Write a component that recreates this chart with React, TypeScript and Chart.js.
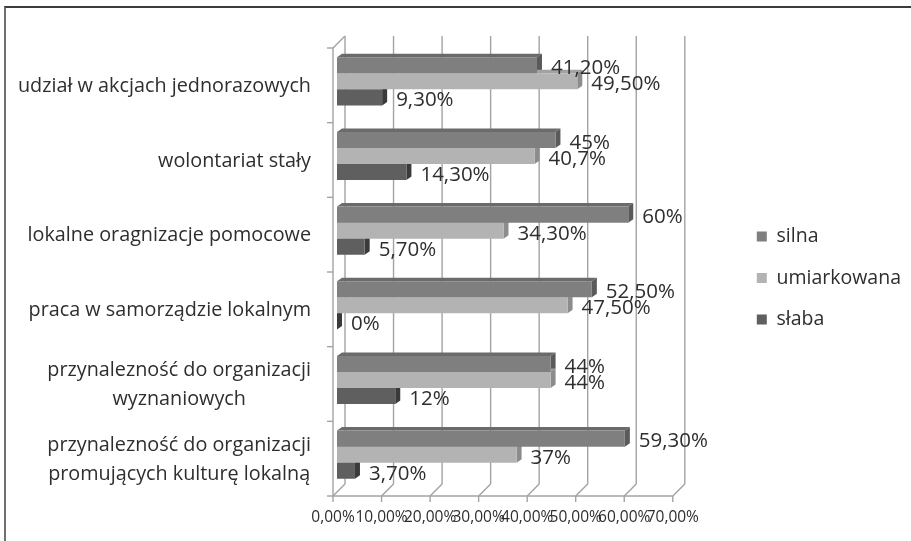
import React, { useEffect, useRef } from 'react';
import { Chart, registerables } from 'chart.js';

Chart.register(...registerables);

// ---------- data ----------
const categories: string[][] = [
  ['udział w akcjach jednorazowych'],
  ['wolontariat stały'],
  ['lokalne oragnizacje pomocowe'],
  ['praca w samorządzie lokalnym'],
  ['przynalezność do organizacji', 'wyznaniowych'],
  ['przynalezność do organizacji', 'promujących kulturę lokalną'],
];
const seriesNames = ['silna', 'umiarkowana', 'słaba'];
const silna = [41.2, 45, 60, 52.5, 44, 59.3];
const umiarkowana = [49.5, 40.7, 34.3, 47.5, 44, 37];
const slaba = [9.3, 14.3, 5.7, 0, 12, 3.7];
const silnaLabels = ['41,20%', '45%', '60%', '52,50%', '44%', '59,30%'];
const umiarkowanaLabels = ['49,50%', '40,7%', '34,30%', '47,50%', '44%', '37%'];
const slabaLabels = ['9,30%', '14,30%', '5,70%', '0%', '12%', '3,70%'];
const xTicks = [0, 10, 20, 30, 40, 50, 60, 70];
const xTickLabels = ['0,00%', '10,00%', '20,00%', '30,00%', '40,00%', '50,00%', '60,00%', '70,00%'];

// ---------- styles ----------
const FONT = "'Open Sans', sans-serif";
const TEXT = '#2e2e2e';
const GRID = '#a3a3a3';
const frontColors = ['#7f7f7f', '#b3b3b3', '#5f5f5f'];
const topColors = ['#6b6b6b', '#a2a2a2', '#4e4e4e'];
const sideColors = ['#5a5a5a', '#8c8c8c', '#3a3a3a'];
const W = 911;
const H = 541;
const PLOT_LEFT = 337;
const PLOT_RIGHT = 677;
const PLOT_TOP = 44;
const PLOT_BOTTOM = 492;
const LEGEND_X = 757;
const LEGEND_PAD = 22;
const LEGEND_FS = 19.5;
const LEGEND_BOX = 10;
const CAT_FS = 19.8;
const VAL_FS = 20.5;
const TICK_FS = 15.5;
const BX = 8, BY = -8; // back wall offset
const FX = -4, FY = 4; // front edge offset
const DX = 5, DY = 3.5; // bar depth
const LABEL_RIGHT = 311;

const valueSeries = [silna, umiarkowana, slaba];
const labelSeries = [silnaLabels, umiarkowanaLabels, slabaLabels];

function line(ctx: CanvasRenderingContext2D, x1: number, y1: number, x2: number, y2: number) {
  ctx.beginPath();
  ctx.moveTo(x1, y1);
  ctx.lineTo(x2, y2);
  ctx.stroke();
}
function poly(ctx: CanvasRenderingContext2D, pts: number[][]) {
  ctx.beginPath();
  ctx.moveTo(pts[0][0], pts[0][1]);
  for (let i = 1; i < pts.length; i++) ctx.lineTo(pts[i][0], pts[i][1]);
  ctx.closePath();
  ctx.fill();
}

const frame3d = {
  id: 'frame3d',
  beforeDatasetsDraw(chart: any) {
    const { ctx, chartArea: ca, scales } = chart;
    const x = scales.x, y = scales.y;
    const top = ca.top, bot = ca.bottom;
    ctx.save();
    ctx.strokeStyle = GRID;
    ctx.lineWidth = 1.4;
    for (const v of xTicks) {
      const px = x.getPixelForValue(v);
      line(ctx, px + BX, top + BY, px + BX, bot + BY);
      line(ctx, px + BX, bot + BY, px + FX, bot + FY);
      line(ctx, px + FX, bot + FY, px + FX, bot + FY + 6);
    }
    const x0 = x.getPixelForValue(xTicks[0]);
    const xN = x.getPixelForValue(xTicks[xTicks.length - 1]);
    line(ctx, x0 + FX, bot + FY, xN + FX, bot + FY);
    line(ctx, x0 + FX, top + FY, x0 + FX, bot + FY);
    line(ctx, x0 + FX, top + FY, x0 + BX, top + BY);
    const n = categories.length;
    const half = (y.getPixelForValue(1) - y.getPixelForValue(0)) / 2;
    for (let i = 0; i <= n; i++) {
      const yy = y.getPixelForValue(i) - half + FY;
      line(ctx, x0 + FX - 6, yy, x0 + FX, yy);
    }
    // 3D faces of bars (top and side)
    chart.data.datasets.forEach((_ds: any, di: number) => {
      const meta = chart.getDatasetMeta(di);
      meta.data.forEach((el: any) => {
        const p = el.getProps(['x', 'y', 'base', 'height'], true);
        const t = p.y - p.height / 2;
        const b = p.y + p.height / 2;
        ctx.fillStyle = topColors[di];
        poly(ctx, [[p.base, t], [p.base + DX, t - DY], [p.x + DX, t - DY], [p.x, t]]);
        ctx.fillStyle = sideColors[di];
        poly(ctx, [[p.x, t], [p.x + DX, t - DY], [p.x + DX, b - DY], [p.x, b]]);
      });
    });
    ctx.restore();
  },
  afterDatasetsDraw(chart: any) {
    const { ctx, scales } = chart;
    const y = scales.y;
    ctx.save();
    ctx.fillStyle = TEXT;
    ctx.font = `${VAL_FS}px ${FONT}`;
    ctx.textBaseline = 'middle';
    ctx.textAlign = 'left';
    chart.data.datasets.forEach((_ds: any, di: number) => {
      const meta = chart.getDatasetMeta(di);
      meta.data.forEach((el: any, i: number) => {
        const p = el.getProps(['x', 'y'], true);
        ctx.fillText(labelSeries[di][i], p.x + 14, p.y + 3);
      });
    });
    // category labels (lines centred on each other, block right-aligned)
    ctx.font = `${CAT_FS}px ${FONT}`;
    ctx.textAlign = 'center';
    const lh = 29;
    categories.forEach((lines, i) => {
      const cy = y.getPixelForValue(i) + FY + 1;
      const maxW = Math.max(...lines.map((l) => ctx.measureText(l).width));
      const cx = LABEL_RIGHT - maxW / 2;
      lines.forEach((l, k) => {
        ctx.fillText(l, cx, cy + (k - (lines.length - 1) / 2) * lh);
      });
    });
    ctx.restore();
  },
};

export default function App() {
  const ref = useRef<HTMLCanvasElement>(null);
  useEffect(() => {
    let chart: any = null;
    let cancelled = false;
    const build = () => {
      if (cancelled || !ref.current) return;
      const canvas = ref.current;
      const mctx = canvas.getContext('2d')!;
      mctx.font = `${LEGEND_FS}px ${FONT}`;
      const maxLegend = Math.max(...seriesNames.map((s) => mctx.measureText(s).width));
      const itemWidth = LEGEND_BOX + LEGEND_FS / 2 + maxLegend;
      const padRight = Math.max(0, W - LEGEND_X - itemWidth - 10);
      const spacer = LEGEND_X - LEGEND_PAD - PLOT_RIGHT;

      chart = new Chart(canvas, {
        type: 'bar',
        data: {
          labels: categories.map((c) => c.join(' ')),
          datasets: seriesNames.map((name, di) => ({
            label: name,
            data: valueSeries[di],
            backgroundColor: frontColors[di],
            borderWidth: 0,
            categoryPercentage: 0.645,
            barPercentage: 1,
          })),
        },
        options: {
          indexAxis: 'y',
          responsive: false,
          animation: false,
          devicePixelRatio: 1,
          layout: { padding: { top: PLOT_TOP, right: padRight, bottom: 0, left: 0 } },
          plugins: {
            tooltip: { enabled: false },
            legend: {
              display: true,
              position: 'right',
              align: 'center',
              fullSize: false,
              maxWidth: 400,
              title: { display: true, text: '', padding: 4, font: { size: 10 } },
              labels: {
                boxWidth: LEGEND_BOX,
                boxHeight: LEGEND_BOX,
                padding: LEGEND_PAD,
                color: TEXT,
                font: { family: FONT, size: LEGEND_FS },
              },
            },
          },
          scales: {
            x: {
              type: 'linear',
              min: xTicks[0],
              max: xTicks[xTicks.length - 1],
              grid: { display: false, drawTicks: false },
              border: { display: false },
              ticks: {
                stepSize: 10,
                autoSkip: false,
                maxRotation: 0,
                padding: 16,
                labelOffset: -4,
                color: TEXT,
                font: { family: FONT, size: TICK_FS },
                callback: (v: any) => xTickLabels[xTicks.indexOf(Number(v))] ?? '',
              },
              afterFit: (s: any) => {
                s.height = H - PLOT_BOTTOM;
              },
            },
            y: {
              type: 'category',
              grid: { display: false, drawTicks: false },
              border: { display: false },
              ticks: { display: false },
              afterFit: (s: any) => {
                s.width = PLOT_LEFT;
              },
            },
            r: {
              type: 'linear',
              position: 'right',
              grid: { display: false, drawTicks: false },
              border: { display: false },
              ticks: { display: false },
              afterFit: (s: any) => {
                s.width = spacer;
              },
            },
          },
        },
        plugins: [frame3d],
      } as any);
    };
    const fontsApi = (document as any).fonts;
    if (fontsApi && fontsApi.load) {
      Promise.all([
        fontsApi.load(`${LEGEND_FS}px ${FONT}`),
        fontsApi.load(`${CAT_FS}px ${FONT}`),
        fontsApi.load(`${TICK_FS}px ${FONT}`),
      ]).then(build, build);
    } else {
      build();
    }
    return () => {
      cancelled = true;
      if (chart) chart.destroy();
    };
  }, []);

  return (
    <div style={{ position: 'absolute', left: 0, top: 0, width: W, height: H, background: '#fff', overflow: 'hidden' }}>
      <div
        style={{
          position: 'absolute',
          left: 4,
          top: 6,
          right: -10,
          bottom: -10,
          borderTop: '2px solid #3c3c3c',
          borderLeft: '2px solid #707070',
        }}
      />
      <canvas ref={ref} width={W} height={H} style={{ position: 'absolute', left: 0, top: 0, width: W, height: H }} />
    </div>
  );
}
